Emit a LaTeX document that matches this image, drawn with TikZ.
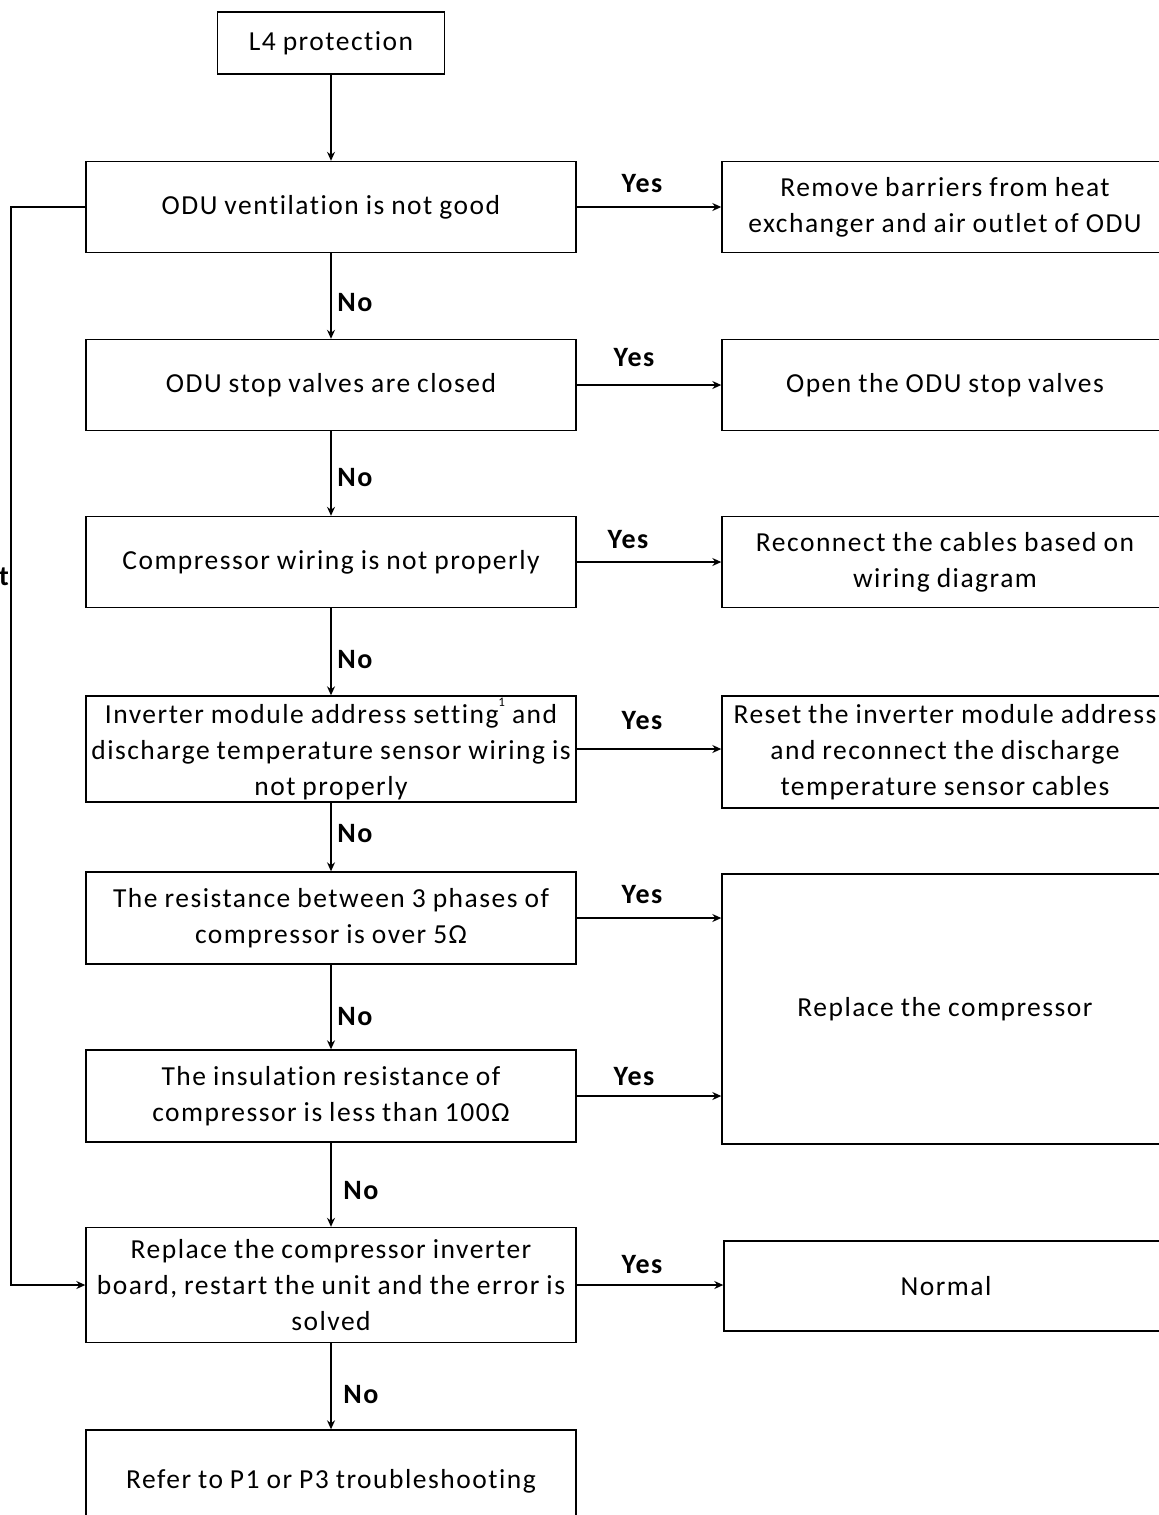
\documentclass[tikz,border=0pt]{standalone}
\usepackage{fontspec}
\setmainfont[LetterSpace=5.5, WordSpace=0.9, Ligatures=NoCommon]{Carlito}
\usetikzlibrary{arrows.meta}
\begin{document}
\begin{tikzpicture}[x=1pt,y=-1pt,
  box/.style={draw, line width=1.4pt, align=flush center, inner sep=1pt,
    font=\fontsize{27.5}{36}\selectfont},
  lbox/.style={box, minimum width=490pt, text width=486pt, minimum height=91pt},
  rbox/.style={box, minimum width=446pt, text width=442pt, minimum height=91pt},
  arr/.style={line width=1.3pt, -{Stealth[length=9pt,width=8pt,inset=3pt]}},
  lab/.style={font=\fontsize{28}{30}\selectfont\bfseries, inner sep=0pt}
]
\useasboundingbox (0,0) rectangle (1159,1515);
\clip (0,0) rectangle (1159,1515);

% left column
\node[box, minimum width=227pt, minimum height=62pt] (l4) at (331,43) {L4 protection};
\node[lbox] (b1) at (331,207) {ODU ventilation is not good};
\node[lbox] (b2) at (331,385) {ODU stop valves are closed};
\node[lbox] (b3) at (331,562) {Compressor wiring is not properly};
\node[lbox, minimum height=106pt] (b4) at (331,749) {Inverter module address setting\raisebox{0.65em}{\fontsize{13}{13}\selectfont 1} and\\discharge temperature sensor wiring is\\not properly};
\node[lbox, minimum height=92pt] (b5) at (331,918) {The resistance between 3 phases of\\compressor is over 5Ω};
\node[lbox, minimum height=92pt] (b6) at (331,1096) {The insulation resistance of\\compressor is less than 100Ω};
\node[lbox, minimum height=115pt] (b7) at (331,1285) {Replace the compressor inverter\\board, restart the unit and the error is\\solved};
\node[lbox, minimum height=110pt] (b8) at (331,1485) {\raisebox{12pt}{Refer to P1 or P3 troubleshooting}};

% right column
\node[rbox] (r1) at (945,207) {Remove barriers from heat\\exchanger and air outlet of ODU};
\node[rbox] (r2) at (945,385) {Open the ODU stop valves};
\node[rbox] (r3) at (945,562) {Reconnect the cables based on\\wiring diagram};
\node[rbox, minimum height=112pt] (r4) at (945,752) {Reset the inverter module address\\and reconnect the discharge\\temperature sensor cables};
\node[rbox, minimum height=270pt] (r5) at (945,1009) {Replace the compressor};
\node[rbox, minimum width=444pt, text width=440pt, minimum height=90pt] (r6) at (946,1286) {Normal};

% vertical No flow
\draw[arr] (l4) -- (b1);
\draw[arr] (b1) -- (b2);
\draw[arr] (b2) -- (b3);
\draw[arr] (b3) -- (b4);
\draw[arr] (b4) -- (b5);
\draw[arr] (b5) -- (b6);
\draw[arr] (b6) -- (b7);
\draw[arr] (b7) -- (b8);

% Yes arrows
\draw[arr] (b1.east) -- (b1.east -| r1.west);
\draw[arr] (b2.east) -- (b2.east -| r2.west);
\draw[arr] (b3.east) -- (b3.east -| r3.west);
\draw[arr] (b4.east) -- (b4.east -| r4.west);
\draw[arr] (b5.east) -- (b5.east -| r5.west);
\draw[arr] (b6.east) -- (b6.east -| r5.west);
\draw[arr] (b7.east) -- (b7.east -| r6.west);

% feedback line
\coordinate (fb) at (11,0);
\draw[arr] (b1.west) -- (b1.west -| fb) -- (b7.west -| fb) -- (b7.west);

% labels
\node[lab] (y1) at (642,184) {Yes};
\node[lab] (y2) at (634,358) {Yes};
\node[lab] (y3) at (628,540) {Yes};
\node[lab] (y4) at (642,721) {Yes};
\node[lab] (y5) at (642,895) {Yes};
\node[lab] (y6) at (634,1077) {Yes};
\node[lab] (y7) at (642,1265) {Yes};

\node[lab] (n1) at (355,303) {No};
\node[lab] (n2) at (355,478) {No};
\node[lab] (n3) at (355,660) {No};
\node[lab] (n4) at (355,834) {No};
\node[lab] (n5) at (355,1017) {No};
\node[lab] (n6) at (361,1191) {No};
\node[lab] (n7) at (361,1395) {No};

\node[lab, anchor=east] (tcut) at (9,577) {t};
\end{tikzpicture}
\end{document}
